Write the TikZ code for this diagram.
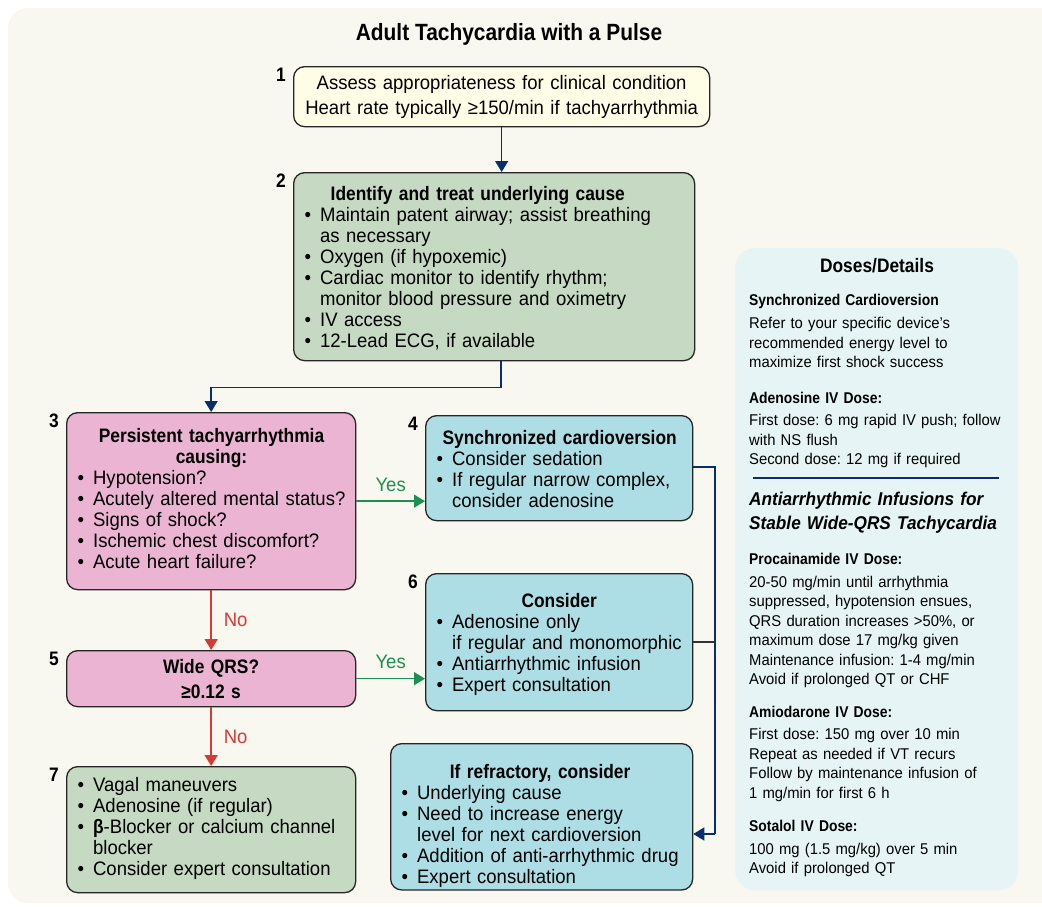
\documentclass[tikz,border=0pt]{standalone}
\usepackage{fontspec}
\setmainfont[
	UprightFeatures={FakeStretch=0.95},
	ItalicFeatures={FakeStretch=0.95},
	BoldFeatures={FakeStretch=0.89},
	BoldItalicFeatures={FakeStretch=0.93}
]{Liberation Sans}
\usetikzlibrary{arrows.meta, calc}
\frenchspacing

\definecolor{bgcream}{HTML}{F8F7F0}
\definecolor{boxyellow}{HTML}{FEFDE6}
\definecolor{boxgreen}{HTML}{C6D9C3}
\definecolor{boxpink}{HTML}{EBB4D3}
\definecolor{boxblue}{HTML}{ADDEE5}
\definecolor{panelblue}{HTML}{E6F4F6}
\definecolor{navy}{HTML}{0B2D6B}
\definecolor{nored}{HTML}{D23C35}
\definecolor{yesgreen}{HTML}{1F8E52}

\newcommand{\bodyfont}{\fontsize{19.5}{21}\selectfont}
\newcommand{\smallfont}{\fontsize{15.6}{19.5}\selectfont}

\begin{document}
\begin{tikzpicture}[
			x=1pt, y=-1pt,
			>={Triangle[width=13pt,length=11pt]},
			% Style for the flowchart boxes
			stepbox/.style={
				draw=black!85,
				line width=1.3pt,
				rounded corners=11pt,
				anchor=north west,
				inner xsep=11pt,
				inner ysep=0pt,
				align=left,
				font=\bodyfont
			},
			% Style for the step numbers
			stepnum/.style={
				font=\bodyfont\bfseries,
				inner sep=0pt,
				anchor=north east,
				xshift=-7pt,
				yshift=-2pt
			},
			% Style for the connectors
			link/.style={->, draw=navy, line width=1.4pt},
			yeslink/.style={->, draw=yesgreen, line width=1.4pt},
			nolink/.style={->, draw=nored, line width=1.4pt},
			answer/.style={font=\bodyfont, inner sep=1pt},
			% Style for the side panel texts
			paneltext/.style={
				anchor=north west,
				inner sep=0pt,
				text width=265pt,
				align=left,
				font=\smallfont
			}
			]
			
			\useasboundingbox (0,0) rectangle (1042,906);
			\clip (0,0) rectangle (1042,906);
			\fill[bgcream, rounded corners=20pt] (8,8) rectangle (1080,903);
			
			% --- TITLE ---
			\node[font=\fontsize{23.5}{27}\selectfont\bfseries] (title) at (509,34) {Adult Tachycardia with a Pulse};
			
			% --- BOXES ---
			
			% Step 1: assess
			\node[stepbox, fill=boxyellow, align=center, font=\fontsize{19.5}{25}\selectfont,
				minimum width=416pt, minimum height=60pt, text width=394pt,
				label={[stepnum]north west:1}] (assess) at (293,66)
				{Assess appropriateness for clinical condition\\Heart rate typically ≥150/min if tachyarrhythmia};
			
			% Step 2: underlying cause
			\node[stepbox, fill=boxgreen, minimum width=401pt, minimum height=188pt, text width=379pt,
				label={[stepnum]north west:2}] (ident) at (293,172) {%
				\begin{tabular}{@{}l@{\hspace{9pt}}l@{}}
					\multicolumn{2}{c}{\rule{0pt}{21pt}\bfseries Identify and treat underlying cause}\\
					• & Maintain patent airway; assist breathing\\
					& as necessary\\
					• & Oxygen (if hypoxemic)\\
					• & Cardiac monitor to identify rhythm;\\
					& monitor blood pressure and oximetry\\
					• & IV access\\
					• & 12-Lead ECG, if available
				\end{tabular}};
			
			% Step 3: persistent tachyarrhythmia
			\node[stepbox, fill=boxpink, minimum width=289pt, minimum height=177pt, text width=267pt,
				label={[stepnum]north west:3}] (persist) at (66,412) {%
				\begin{tabular}{@{}l@{\hspace{9pt}}l@{}}
					\multicolumn{2}{c}{\bfseries Persistent tachyarrhythmia}\\
					\multicolumn{2}{c}{\bfseries causing:}\\
					• & Hypotension?\\
					• & Acutely altered mental status?\\
					• & Signs of shock?\\
					• & Ischemic chest discomfort?\\
					• & Acute heart failure?
				\end{tabular}};
			
			% Step 4: cardioversion
			\node[stepbox, fill=boxblue, minimum width=267pt, minimum height=105pt, text width=245pt,
				label={[stepnum]north west:4}] (cardio) at (425,415) {%
				\begin{tabular}{@{}l@{\hspace{9pt}}l@{}}
					\multicolumn{2}{c}{\rule{0pt}{22pt}\bfseries Synchronized cardioversion}\\
					• & Consider sedation\\
					• & If regular narrow complex,\\
					& consider adenosine
				\end{tabular}};
			
			% Step 5: wide QRS
			\node[stepbox, fill=boxpink, align=center, font=\fontsize{19.5}{25}\selectfont\bfseries,
				minimum width=289pt, minimum height=56pt, text width=267pt,
				label={[stepnum]north west:5}] (wide) at (66,650)
				{Wide QRS?\\≥0.12 s};
			
			% Step 6: consider
			\node[stepbox, fill=boxblue, minimum width=267pt, minimum height=137pt, text width=245pt,
				label={[stepnum]north west:6}] (consider) at (425,573) {%
				\begin{tabular}{@{}l@{\hspace{9pt}}l@{}}
					\multicolumn{2}{c}{\rule{0pt}{21pt}\bfseries Consider}\\
					• & Adenosine only\\
					& if regular and monomorphic\\
					• & Antiarrhythmic infusion\\
					• & Expert consultation
				\end{tabular}};
			
			% Step 7: narrow QRS
			\node[stepbox, fill=boxgreen, minimum width=289pt, minimum height=126pt, text width=267pt,
				label={[stepnum]north west:7}] (vagal) at (66,766) {%
				\begin{tabular}{@{}l@{\hspace{9pt}}l@{}}
					• & Vagal maneuvers\\
					• & Adenosine (if regular)\\
					• & {\bfseries β}-Blocker or calcium channel\\
					& blocker\\
					• & Consider expert consultation
				\end{tabular}};
			
			% Refractory
			\node[stepbox, fill=boxblue, minimum width=302pt, minimum height=142pt, text width=280pt] (refract) at (390,743) {%
				\begin{tabular}{@{}l@{\hspace{9pt}}l@{}}
					\multicolumn{2}{c}{\rule{0pt}{35pt}\bfseries If refractory, consider}\\
					• & Underlying cause\\
					• & Need to increase energy\\
					& level for next cardioversion\\
					• & Addition of anti-arrhythmic drug\\
					• & Expert consultation
				\end{tabular}};
			
			% --- CONNECTORS ---
			\draw[link] (assess.south) -- (assess.south |- ident.north);
			\draw[link] ([xshift=7pt]ident.south) -- ++(0,26) -| (persist.north);
			
			\draw[nolink] (persist.south) -- node[answer, right=11pt, text=nored] (no1) {No} (wide.north);
			\draw[nolink] (wide.south) -- node[answer, right=11pt, text=nored] (no2) {No} (vagal.north);
			
			\draw[yeslink] (persist.east) -- node[answer, above=8pt, text=yesgreen] (yes1) {Yes} (persist.east -| cardio.west);
			\draw[yeslink] (wide.east) -- node[answer, above=8pt, text=yesgreen] (yes2) {Yes} (wide.east -| consider.west);
			
			% Rail on the right down to the refractory box
			\coordinate (railtop) at (715,467);
			\coordinate (railbot) at (715,834);
			\draw[navy, line width=1.4pt] (cardio.east |- railtop) -- (railtop) -- (railbot);
			\draw[black!80, line width=1.4pt] (consider.east) -- (consider.east -| railtop);
			\draw[link] (railbot) -- (railbot -| refract.east);
			
			% --- DOSES / DETAILS PANEL ---
			\node[fill=panelblue, rounded corners=20pt, anchor=north west, inner sep=0pt,
				minimum width=283pt, minimum height=642pt] (doses) at (735,248) {};
			\node[font=\fontsize{19.5}{22}\selectfont\bfseries] (dosestitle) at (877,266) {Doses/Details};
			
			\node[paneltext] (dosesA) at (749,294) {%
				\textbf{Synchronized Cardioversion}\\[3.5pt]
				Refer to your specific device’s\\
				recommended energy level to\\
				maximize first shock success\\[16pt]
				\textbf{Adenosine IV Dose:}\\[3pt]
				First dose: 6 mg rapid IV push; follow\\
				with NS flush\\
				Second dose: 12 mg if required};
			
			\draw[navy, line width=1.3pt] (753,478) -- (999,478);
			
			\node[paneltext, font=\fontsize{18.5}{24}\selectfont\bfseries\itshape] (infusions) at (749,492)
				{Antiarrhythmic Infusions for\\Stable Wide-QRS Tachycardia};
			
			\node[paneltext] (dosesB) at (749,553) {%
				\textbf{Procainamide IV Dose:}\\[3pt]
				20-50 mg/min until arrhythmia\\
				suppressed, hypotension ensues,\\
				QRS duration increases >50\%, or\\
				maximum dose 17 mg/kg given\\
				Maintenance infusion: 1-4 mg/min\\
				Avoid if prolonged QT or CHF\\[13pt]
				\textbf{Amiodarone IV Dose:}\\[3pt]
				First dose: 150 mg over 10 min\\
				Repeat as needed if VT recurs\\
				Follow by maintenance infusion of\\
				1 mg/min for first 6 h\\[14pt]
				\textbf{Sotalol IV Dose:}\\[3pt]
				100 mg (1.5 mg/kg) over 5 min\\
				Avoid if prolonged QT};
			
		\end{tikzpicture}
\end{document}
